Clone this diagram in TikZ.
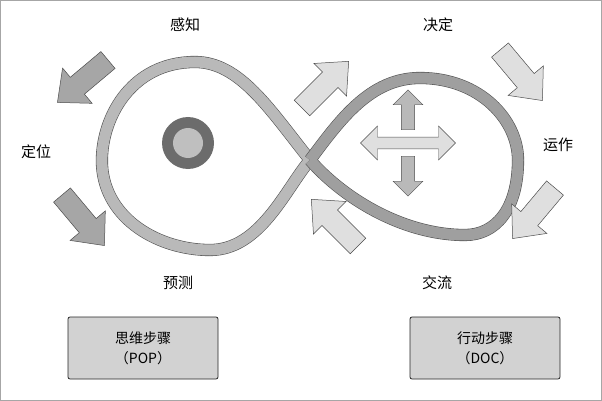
\documentclass[tikz,border=0pt]{standalone}
\usepackage{fontspec}
\newfontfamily\cjk{Noto Sans CJK SC}
\usetikzlibrary{shapes.arrows}
\begin{document}
\begin{tikzpicture}[x=1pt,y=-1pt,
  lbl/.style={font=\cjk\fontsize{15}{17}\selectfont},
  box/.style={draw=gray!30!black, line width=0.8pt, fill=gray!35, rounded corners=2pt, minimum width=150pt, minimum height=62pt, align=center, font=\cjk\fontsize{14}{20}\selectfont},
  barrow/.pic={\path[draw=gray!60!black, line width=0.5pt, pic actions] (0,-11) -- (40,-11) -- (40,-23) -- (66,0) -- (40,23) -- (40,11) -- (0,11) -- cycle;},
  darr/.style={fill=gray!70},
  larr/.style={fill=gray!25}]
\useasboundingbox (0,0) rectangle (602,401);
\draw[gray!70, line width=1pt] (0.5,0.5) rectangle (601.5,400.5);
% ribbon
\draw[draw=gray!65!black, line width=0.6pt, double=gray!55, double distance=11pt]
 (310,160) .. controls (270,110) and (240,62) .. (195,62)
 .. controls (130,62) and (100,120) .. (102,165)
 .. controls (105,220) and (160,250) .. (210,250)
 .. controls (260,250) and (285,190) .. (310,160);
\draw[draw=gray!65!black, line width=0.6pt, double=gray!75, double distance=11pt]
 (310,160) .. controls (340,120) and (370,78) .. (420,78)
 .. controls (480,78) and (518,120) .. (518,160)
 .. controls (518,210) and (495,235) .. (465,235)
 .. controls (400,235) and (340,195) .. (310,160);
% circle
\node (eye) [circle, minimum size=52pt, fill=gray!85!black] at (188,143) {};
\node (pupil) [circle, minimum size=30pt, fill=gray!50] at (eye) {};
% cross arrow
\node (harr) [double arrow, fill=gray!25, draw=gray!60!black, minimum height=95pt, minimum width=34pt, inner sep=3pt, double arrow head extend=6pt] at (408,143) {};
\node (varr1) [single arrow, fill=gray!55, draw=gray!60!black, rotate=90, minimum height=40pt, minimum width=30pt, inner sep=3pt, single arrow head extend=4pt, anchor=west] at (408,130) {};
\node (varr2) [single arrow, fill=gray!55, draw=gray!60!black, rotate=-90, minimum height=40pt, minimum width=30pt, inner sep=3pt, single arrow head extend=4pt, anchor=west] at (408,156) {};
% block arrows
\pic[darr, rotate=-140] at (108,60) {barrow};
\pic[darr, rotate=-50] at (62,195) {barrow};
\pic[larr, rotate=45] at (302,108) {barrow};
\pic[larr, rotate=-50] at (500,50) {barrow};
\pic[larr, rotate=-130] at (555,188) {barrow};
\pic[larr, rotate=135] at (358,246) {barrow};
% labels
\node (t1) [lbl] at (185,25) {感知};
\node (t2) [lbl] at (438,25) {决定};
\node (t3) [lbl] at (36,152) {定位};
\node (t4) [lbl] at (558,145) {运作};
\node (t5) [lbl] at (178,283) {预测};
\node (t6) [lbl] at (437,283) {交流};
% boxes
\node (b1) [box] at (143,348) {思维步骤\\（POP）};
\node (b2) [box] at (485,348) {行动步骤\\（DOC）};
\end{tikzpicture}
\end{document}
